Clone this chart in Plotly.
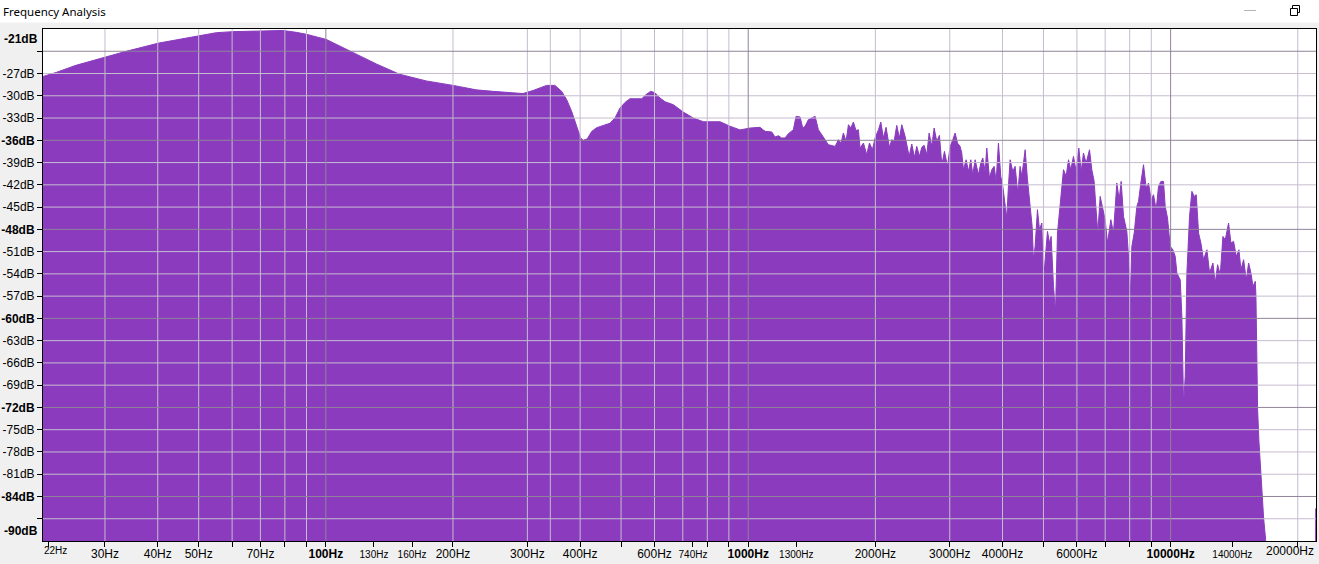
import numpy as np
import plotly.graph_objects as go

# ---------------- data ----------------
freq_hz = [
    21.4, 23.0, 25.6, 30.0, 33.7, 40.2, 45.9, 49.9, 55.0, 60.2, 69.7, 79.1, 85.1, 89.8,
    100.2, 109.7, 118.0, 131.6, 149.5, 172.9, 200.0, 227.0, 248.6, 277.3, 292.9, 309.2,
    321.3, 333.2, 348.6, 361.6, 371.6, 381.9, 392.5, 401.2, 406.9, 415.9,
    426.0, 437.8, 453.8, 470.7, 483.7, 497.1, 510.9, 524.8, 544.4, 559.5,
    572.7, 587.6, 601.6, 618.2, 635.3, 664.7, 702.0, 741.3, 783.0, 826.9,
    857.7, 905.6, 956.3, 1010,
    1066, 1096, 1137, 1157, 1179, 1200, 1222, 1245, 1279, 1298,
    1327, 1346, 1363, 1388, 1414, 1440, 1466, 1507, 1548, 1606,
    1635, 1659, 1680, 1705, 1727, 1749, 1774, 1800, 1823, 1840,
    1874, 1908, 1936, 1968, 1997, 2034, 2060, 2090, 2120, 2159,
    2187, 2215, 2247, 2280, 2310, 2352, 2404, 2439, 2475, 2506,
    2543, 2576, 2609, 2647, 2681, 2720, 2755, 2795, 2836, 2873,
    2915, 2963,
    3006, 3050, 3089, 3129, 3174, 3203, 3233, 3280, 3322, 3365,
    3401, 3445, 3508, 3553, 3592, 3638, 3671, 3725, 3773, 3821,
    3863, 3912, 3962, 4006, 4042, 4094, 4131, 4169, 4230, 4284,
    4347, 4403, 4443, 4525, 4583, 4650, 4701, 4735, 4778, 4839,
    4893, 4955, 5000, 5046, 5111, 5167, 5214, 5281, 5339, 5397,
    5476, 5577, 5658, 5731, 5804, 5889, 5976, 6063, 6141, 6219,
    6310, 6426, 6508, 6592, 6652, 6725, 6811, 6911, 6999, 7089,
    7219, 7325, 7459, 7555, 7637, 7735, 7877, 7949, 8022, 8095,
    8199, 8319, 8395, 8502, 8627, 8753, 8865, 8995, 9110, 9244,
    9362, 9482, 9621, 9709, 9833, 9978, 10124, 10254, 10348, 10538,
    10634, 10731, 10829, 10928, 11088, 11230, 11374, 11499, 11646, 11795,
    11968, 12188, 12367, 12594, 12755, 12918, 13107, 13299, 13470, 13717,
    13892, 14096, 14303, 14513, 14672, 14887, 15105, 15299, 15495, 15665,
    15865,
    15923, 15981, 16068, 16186, 16304, 16453, 16603, 16785, 16847, 21990, 22050,
]

level_db = [
    -27.4, -26.85, -25.9, -24.8, -24.0, -22.9, -22.3, -21.9, -21.5, -21.36, -21.23, -21.2, -21.45, -21.7,
    -22.4, -23.5, -24.4, -25.7, -27.1, -28.0, -28.6, -29.2, -29.4, -29.6, -29.7, -29.3,
    -28.95, -28.6, -28.6, -29.4, -30.5, -32.1, -34.1, -35.7, -36.0, -35.8,
    -34.8, -34.3, -34.0, -33.7, -33.0, -31.65, -30.9, -30.4, -30.4, -30.4,
    -29.85, -29.4, -29.6, -30.3, -30.8, -31.2, -32.2, -33.0, -33.5, -33.5,
    -33.5, -34.1, -34.6, -34.35,
    -34.25, -34.79, -34.88, -35.56, -35.38, -35.69, -35.69, -35.11, -34.57, -32.77,
    -32.86, -34.34, -34.12, -33.22, -33.0, -32.77, -34.57, -35.69, -36.59, -36.82,
    -35.92, -36.37, -35.02, -36.14, -33.90, -34.34, -33.54, -34.70, -34.57, -37.04,
    -36.37, -37.94, -36.37, -37.26, -35.69, -34.57, -33.54, -35.69, -34.25, -36.95,
    -35.92, -36.14, -33.99, -35.69, -33.90, -35.47, -38.16, -36.50, -38.30, -36.82,
    -38.16, -36.95, -36.68, -37.94, -35.02, -36.82, -34.34, -36.14, -35.33, -39.29,
    -37.49, -39.51,
    -36.82, -35.92, -35.02, -36.37, -36.82, -37.72, -39.96, -38.62, -40.19, -38.62,
    -40.64, -38.62, -40.64, -39.07, -38.39, -40.19, -37.04, -41.09, -39.96, -39.51,
    -41.54, -36.37, -40.86, -42.21, -44.01, -46.48, -42.21, -38.62, -40.19, -39.51,
    -43.11, -39.51, -40.86, -37.27, -41.31, -44.91, -47.60, -52.09, -50.30, -45.35,
    -48.05, -47.15, -55.24, -52.09, -48.28, -49.85, -48.95, -55.69, -59.06, -48.50,
    -44.91, -39.96, -40.86, -38.62, -39.96, -38.17, -40.19, -37.04, -40.19, -37.72,
    -39.07, -37.27, -39.96, -41.54, -44.91, -48.50, -43.56, -45.35, -46.70, -49.85,
    -46.70, -48.50, -41.76, -44.01, -41.54, -46.25, -48.28, -51.64, -57.48, -50.30,
    -48.50, -44.91, -44.23, -41.76, -39.29, -42.43, -41.76, -44.01, -43.33, -45.35,
    -42.21, -41.54, -41.54, -44.91, -46.48, -50.30, -50.75, -51.64, -53.89, -54.79,
    -59.73, -71.63, -67.82, -53.89, -46.25, -42.88, -43.56, -43.33, -48.50, -49.85,
    -52.09, -50.75, -53.89, -52.54, -55.24, -52.77, -54.12, -48.95, -49.40, -47.15,
    -49.85, -49.62, -51.64, -50.75, -53.44, -52.09, -54.79, -52.54, -53.89, -55.69,
    -55.01,
    -57.0, -65.6, -72.3, -76.6, -79.9, -84.0, -86.9, -89.8, -120.0, -120.0, -85.6,
]

floor_db = -120.0
freq_range_hz = [21.4, 22090]
db_range = [-90, -21]

x_tick_vals = [22, 30, 40, 50, 60, 70, 80, 90, 100, 130, 160, 200, 300, 400, 500, 600, 740,
               800, 900, 1000, 1300, 2000, 3000, 4000, 5000, 6000, 7000, 8000, 9000, 10000,
               14000, 20000]
SM = '<span style="font-size:10px">%s</span>'
x_tick_text = ['', '30Hz', '40Hz', '50Hz', '', '70Hz', '', '', '<b>100Hz</b>',
               SM % '130Hz', SM % '160Hz', '200Hz', '300Hz', '400Hz', '', '600Hz', SM % '740Hz',
               '', '', '<b>1000Hz</b>', SM % '1300Hz', '2000Hz', '3000Hz', '4000Hz', '', '6000Hz',
               '', '', '', '<b>10000Hz</b>', SM % '14000Hz', '']

y_tick_vals = list(range(-24, -88, -3))
y_major = [-24, -36, -48, -60, -72, -84]
y_tick_text = []
for v in y_tick_vals:
    if v in (-24, -87):
        y_tick_text.append('')
    elif v in y_major:
        y_tick_text.append('<b>%ddB</b>' % v)
    else:
        y_tick_text.append('%ddB' % v)

x_grid_minor = [30, 40, 50, 60, 70, 80, 90, 200, 300, 340, 400, 500, 600, 700, 800, 900,
                2000, 3000, 4000, 5000, 6000, 7000, 8000, 9000, 20000]
x_grid_major = [100, 1000, 10000]
y_grid_minor = [v for v in y_tick_vals if v not in y_major]
y_grid_major = y_major

# ---------------- figure ----------------
W, H = 1319, 564
M_L, M_R, M_T, M_B = 43, 3, 29, 23
PURPLE = '#8A3BBE'
GRID_MINOR = '#c6bccf'
GRID_MAJOR = '#8f8498'
FONT = 'Arial, Liberation Sans, sans-serif'


def px_x(px):
    return (px - M_L) / (W - M_L - M_R)


def px_y(py):
    return (H - M_B - py) / (H - M_T - M_B)


fig = go.Figure()
fig.add_trace(go.Scatter(x=freq_hz, y=np.full(len(freq_hz), floor_db), mode='lines',
                         line=dict(width=0, color=PURPLE), hoverinfo='skip', showlegend=False))
fig.add_trace(go.Scatter(x=freq_hz, y=level_db, mode='lines', fill='tonexty',
                         fillcolor=PURPLE, line=dict(width=1, color=PURPLE), showlegend=False))

shapes = []
for f in x_grid_minor:
    shapes.append(dict(type='line', xref='x', yref='paper', x0=f, x1=f, y0=0, y1=1,
                       line=dict(color=GRID_MINOR, width=1), layer='above'))
for v in y_grid_minor:
    shapes.append(dict(type='line', xref='paper', yref='y', x0=0, x1=1, y0=v, y1=v,
                       line=dict(color=GRID_MINOR, width=1), layer='above'))
for f in x_grid_major:
    shapes.append(dict(type='line', xref='x', yref='paper', x0=f, x1=f, y0=0, y1=1,
                       line=dict(color=GRID_MAJOR, width=1), layer='above'))
for v in y_grid_major:
    shapes.append(dict(type='line', xref='paper', yref='y', x0=0, x1=1, y0=v, y1=v,
                       line=dict(color=GRID_MAJOR, width=1), layer='above'))

# window title bar (white) and window buttons
shapes.append(dict(type='rect', xref='paper', yref='paper', x0=px_x(-5), x1=px_x(W + 5),
                   y0=px_y(22.5), y1=px_y(-5), fillcolor='white', line=dict(width=0),
                   layer='below'))
shapes.append(dict(type='line', xref='paper', yref='paper', x0=px_x(1244), x1=px_x(1256),
                   y0=px_y(10.5), y1=px_y(10.5), line=dict(color='#b4b4b4', width=1)))
shapes.append(dict(type='rect', xref='paper', yref='paper', x0=px_x(1292.5), x1=px_x(1299.5),
                   y0=px_y(12.5), y1=px_y(5.5), fillcolor='white', line=dict(color='black', width=1)))
shapes.append(dict(type='rect', xref='paper', yref='paper', x0=px_x(1290.5), x1=px_x(1297.5),
                   y0=px_y(15.5), y1=px_y(8.5), fillcolor='white', line=dict(color='black', width=1)))

annotations = [
    dict(text='Frequency Analysis', xref='paper', yref='paper', x=px_x(1), y=px_y(11.5),
         xanchor='left', yanchor='middle', showarrow=False,
         font=dict(family='Segoe UI, Noto Sans, sans-serif', size=11.5, color='black')),
    dict(text='<b>-21dB</b>', xref='paper', yref='paper', x=px_x(40), y=1, yshift=-1,
         xanchor='right', yanchor='top', showarrow=False,
         font=dict(family=FONT, size=12, color='black')),
    dict(text='<b>-90dB</b>', xref='paper', yref='paper', x=px_x(40), y=0, yshift=1,
         xanchor='right', yanchor='bottom', showarrow=False,
         font=dict(family=FONT, size=12, color='black')),
    dict(text='22Hz', xref='x', yref='paper', x=np.log10(x_tick_vals[0]), y=0, xshift=-6,
         yshift=-2, xanchor='left', yanchor='top', showarrow=False,
         font=dict(family=FONT, size=10, color='black')),
    dict(text='20000Hz', xref='x', yref='paper', x=np.log10(x_tick_vals[-1]), y=0, xshift=18,
         yshift=-1, xanchor='right', yanchor='top', showarrow=False,
         font=dict(family=FONT, size=12, color='black')),
]

fig.update_layout(
    width=W, height=H,
    margin=dict(l=M_L, r=M_R, t=M_T, b=M_B, pad=0),
    paper_bgcolor='#f0f0f0', plot_bgcolor='white',
    showlegend=False,
    shapes=shapes, annotations=annotations,
    font=dict(family=FONT, size=12, color='black'),
    xaxis=dict(type='log', range=[np.log10(freq_range_hz[0]), np.log10(freq_range_hz[1])],
               tickmode='array', tickvals=x_tick_vals, ticktext=x_tick_text,
               ticks='outside', ticklen=5, tickcolor='black', tickwidth=1,
               ticklabelstandoff=-3,
               showgrid=False, zeroline=False, showline=True, mirror=True,
               linecolor='black', linewidth=1,
               tickfont=dict(family=FONT, size=12, color='black'), automargin=False),
    yaxis=dict(range=db_range, tickmode='array', tickvals=y_tick_vals, ticktext=y_tick_text,
               ticks='outside', ticklen=5, tickcolor='black', tickwidth=1,
               showgrid=False, zeroline=False, showline=True, mirror=True,
               linecolor='black', linewidth=1,
               tickfont=dict(family=FONT, size=12, color='black'), automargin=False),
)

fig.write_html('out.html', config={'displayModeBar': False},
               post_script="document.body.style.margin='0';document.body.style.overflow='hidden';")
